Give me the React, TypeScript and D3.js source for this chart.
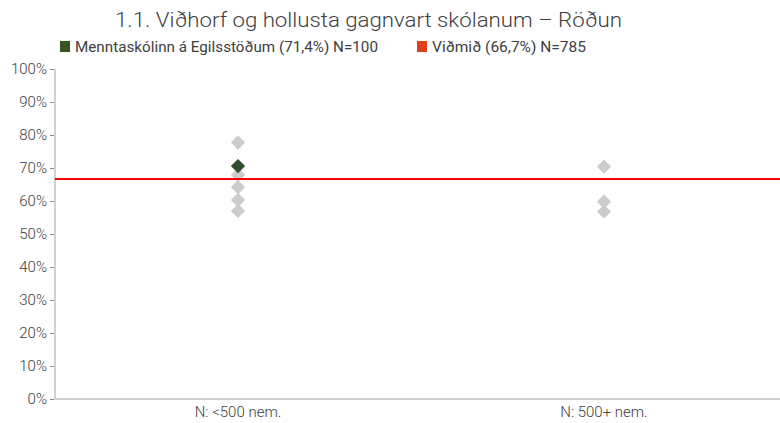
import React, { useEffect, useRef } from "react";
import * as d3 from "d3";

const categories = ["N: <500 nem.", "N: 500+ nem."];
const otherSchools = [
  [77.7, 67.9, 64.2, 60.3, 57.0],
  [70.4, 59.8, 56.8],
];
const schoolValue = { category: "N: <500 nem.", value: 70.6 };
const benchmark = 66.7;
const yTicks = [0, 10, 20, 30, 40, 50, 60, 70, 80, 90, 100];
const legendItems = [
  { label: "Menntaskólinn á Egilsstöðum (71,4%) N=100", color: "#375623" },
  { label: "Viðmið (66,7%) N=785", color: "#e2401b" },
];
const title = "1.1. Viðhorf og hollusta gagnvart skólanum – Röðun";

const W = 780, H = 423;
const FONT = "Roboto, 'Open Sans', sans-serif";

const drawChart = (container: SVGSVGElement | null) => {
  if (!container) return;
  const svg = d3.select(container);
  svg.selectAll("*").remove();

  const left = 55, top = 69, bottom = 399, right = 787;
  const x = d3.scaleBand().domain(categories).range([left, right]);
  const y = d3.scaleLinear().domain([0, 100]).range([bottom, top]);

  // title
  svg.append("text")
    .attr("x", 115).attr("y", 27)
    .attr("textLength", 507).attr("lengthAdjust", "spacingAndGlyphs")
    .style("font-family", FONT).style("font-size", "21px").style("font-weight", 300)
    .attr("fill", "#404040")
    .text(title);

  // legend
  const legendX = [60, 417];
  const legendLen = [303, 154];
  legendItems.forEach((d, i) => {
    svg.append("rect").attr("x", legendX[i]).attr("y", 41).attr("width", 10).attr("height", 11).attr("fill", d.color);
    svg.append("text")
      .attr("x", legendX[i] + 15).attr("y", 51.5)
      .attr("textLength", legendLen[i]).attr("lengthAdjust", "spacingAndGlyphs")
      .style("font-family", FONT).style("font-size", "14px")
      .attr("fill", "#404040")
      .text(d.label);
  });

  // y axis
  const yAxis = svg.append("g").attr("transform", `translate(${left},0)`)
    .call(d3.axisLeft(y).tickValues(yTicks).tickSize(5).tickPadding(3).tickFormat((d) => `${d}%`));
  yAxis.select(".domain").remove();
  yAxis.selectAll("line").attr("stroke", "#8c8c8c");
  yAxis.selectAll("text").style("font-family", FONT).style("font-size", "15px").style("font-weight", 300).attr("fill", "#404040");
  svg.append("line").attr("x1", left).attr("x2", left).attr("y1", top).attr("y2", bottom + 1)
    .attr("stroke", "#d0d0d0").attr("stroke-width", 2);

  // x axis
  svg.append("line").attr("x1", left).attr("x2", W).attr("y1", bottom).attr("y2", bottom)
    .attr("stroke", "#d0d0d0").attr("stroke-width", 2);
  categories.forEach((c) => {
    svg.append("text")
      .attr("x", (x(c) ?? 0) + x.bandwidth() / 2).attr("y", 417)
      .attr("text-anchor", "middle")
      .style("font-family", FONT).style("font-size", "15px").style("font-weight", 300)
      .attr("fill", "#404040")
      .text(c);
  });

  const diamond = d3.symbol().type(d3.symbolDiamond2).size(130);

  // other schools
  categories.forEach((c, i) => {
    const cx = (x(c) ?? 0) + x.bandwidth() / 2;
    svg.append("g").selectAll("path")
      .data(otherSchools[i])
      .join("path")
      .attr("d", diamond)
      .attr("transform", (v) => `translate(${cx},${y(v)})`)
      .attr("fill", "#cccccc");
  });

  // benchmark line
  svg.append("line").attr("x1", left).attr("x2", W).attr("y1", y(benchmark)).attr("y2", y(benchmark))
    .attr("stroke", "#ff0000").attr("stroke-width", 2);

  // the school
  const sx = (x(schoolValue.category) ?? 0) + x.bandwidth() / 2;
  svg.append("path")
    .attr("d", diamond)
    .attr("transform", `translate(${sx},${y(schoolValue.value)})`)
    .attr("fill", "#2f4f2f");
};

export default function App() {
  const ref = useRef<SVGSVGElement>(null);
  useEffect(() => {
    drawChart(ref.current);
  }, []);
  return (
    <div style={{ position: "absolute", left: 0, top: 0, width: W, height: H, background: "#fff" }}>
      <svg ref={ref} width={W} height={H} />
    </div>
  );
}
